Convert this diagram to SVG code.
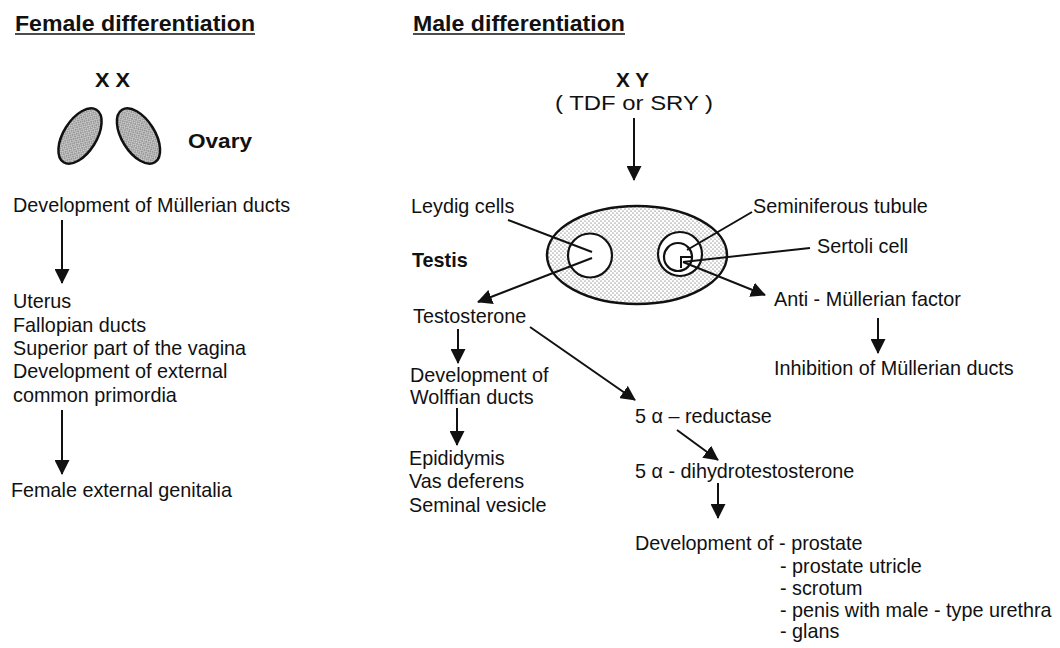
<svg xmlns="http://www.w3.org/2000/svg" width="1060" height="648" viewBox="0 0 1060 648">
<style>
text{font-family:"Liberation Sans",Arial,sans-serif;fill:#111;font-size:19.8px}
.b{font-weight:bold}
.hd{font-weight:bold;font-size:22px}
.ln{stroke:#111;stroke-width:2;fill:none}
.arr{stroke:#111;stroke-width:2;fill:none;marker-end:url(#ah)}
.ul{stroke:#111;stroke-width:1.6}
</style>
<defs>
<marker id="ah" viewBox="0 0 15 15" markerWidth="15" markerHeight="15" markerUnits="userSpaceOnUse" refX="14" refY="7.5" orient="auto">
<path d="M0,0 L15,7.5 L0,15 z" fill="#111"/>
</marker>
<pattern id="stip" width="4" height="4" patternUnits="userSpaceOnUse">
<rect width="4" height="4" fill="#fff"/>
<circle cx="1" cy="1" r="0.6" fill="#444"/>
<circle cx="3" cy="3" r="0.6" fill="#444"/>
</pattern>
<pattern id="dense" width="3" height="3" patternUnits="userSpaceOnUse">
<rect width="3" height="3" fill="#d0d0d0"/>
<circle cx="1" cy="1" r="0.8" fill="#555"/>
<circle cx="2.5" cy="2.5" r="0.5" fill="#777"/>
</pattern>
</defs>
<rect width="1060" height="648" fill="#fff"/>

<g id="female-header">
<text class="hd" x="15" y="31" textLength="240" lengthAdjust="spacingAndGlyphs">Female differentiation</text>
<line class="ul" x1="15" y1="34" x2="255" y2="34"/>
</g>
<g id="xx">
<text class="b" x="95" y="87" font-size="20" textLength="35" lengthAdjust="spacingAndGlyphs">X X</text>
</g>
<g id="ovary">
<ellipse cx="80" cy="136" rx="16.5" ry="31" transform="rotate(32 80 136)" fill="url(#dense)" stroke="#111" stroke-width="2.5"/>
<ellipse cx="138.5" cy="136" rx="16.5" ry="31" transform="rotate(-32 138.5 136)" fill="url(#dense)" stroke="#111" stroke-width="2.5"/>
<text class="b" x="188" y="148" font-size="22" textLength="64" lengthAdjust="spacingAndGlyphs">Ovary</text>
</g>
<g id="mullerian-dev">
<text x="13" y="212">Development of Müllerian ducts</text>
</g>
<g id="female-internal">
<text x="13" y="308">Uterus</text>
<text x="13" y="332">Fallopian ducts</text>
<text x="13" y="355">Superior part of the vagina</text>
<text x="13" y="378">Development of external</text>
<text x="13" y="402">common primordia</text>
</g>
<g id="female-external">
<text x="11" y="497">Female external genitalia</text>
</g>

<g id="male-header">
<text class="hd" x="413" y="31" textLength="212" lengthAdjust="spacingAndGlyphs">Male differentiation</text>
<line class="ul" x1="413" y1="34" x2="625" y2="34"/>
</g>
<g id="xy">
<text class="b" x="616" y="86.5" font-size="20" textLength="33" lengthAdjust="spacingAndGlyphs">X Y</text>
<text x="634" y="110" font-size="23" text-anchor="middle" textLength="158" lengthAdjust="spacingAndGlyphs">( TDF or SRY )</text>
</g>
<g id="testis">
<ellipse cx="637" cy="255" rx="90" ry="49" fill="url(#stip)" stroke="#111" stroke-width="2.5"/>
<circle cx="590" cy="255.5" r="22" fill="#fff" stroke="#111" stroke-width="2.2"/>
<circle cx="680" cy="254" r="22" fill="#fff" stroke="#111" stroke-width="2.2"/>
<circle cx="678" cy="257" r="14" fill="#fff" stroke="#111" stroke-width="2.2"/>
<path d="M681,268 V257 H692" class="ln"/>
<text class="b" x="412" y="267" font-size="22.5">Testis</text>
</g>
<g id="leydig">
<text x="411" y="213">Leydig cells</text>
</g>
<g id="seminiferous">
<text x="753" y="213">Seminiferous tubule</text>
</g>
<g id="sertoli">
<text x="817" y="253">Sertoli cell</text>
</g>
<g id="amf">
<text x="774" y="306">Anti - Müllerian factor</text>
</g>
<g id="inhibition">
<text x="774" y="375">Inhibition of Müllerian ducts</text>
</g>
<g id="testosterone">
<text x="413" y="323">Testosterone</text>
</g>
<g id="wolffian">
<text x="410" y="382">Development of</text>
<text x="410" y="404">Wolffian ducts</text>
</g>
<g id="wolffian-derivatives">
<text x="409" y="465">Epididymis</text>
<text x="409" y="488">Vas deferens</text>
<text x="409" y="512">Seminal vesicle</text>
</g>
<g id="reductase">
<text x="635" y="423">5 α – reductase</text>
</g>
<g id="dht">
<text x="635" y="478">5 α - dihydrotestosterone</text>
</g>
<g id="prostate-dev">
<text x="635" y="550">Development of - prostate</text>
<text x="780" y="573">- prostate utricle</text>
<text x="780" y="595">- scrotum</text>
<text x="780" y="617">- penis with male - type urethra</text>
<text x="780" y="638">- glans</text>
</g>

<g id="connectors">
<line class="arr" x1="62" y1="220" x2="62" y2="283"/>
<line class="arr" x1="62" y1="410" x2="62" y2="474"/>
<line class="arr" x1="634" y1="118" x2="634" y2="180"/>
<line class="ln" x1="508" y1="220" x2="592" y2="252"/>
<line class="arr" x1="592" y1="258" x2="478" y2="302"/>
<line class="ln" x1="752" y1="212" x2="687" y2="250"/>
<line class="ln" x1="810" y1="248" x2="683" y2="262"/>
<line class="arr" x1="683" y1="262" x2="765" y2="295"/>
<line class="arr" x1="878" y1="318" x2="878" y2="353"/>
<line class="arr" x1="458" y1="329" x2="458" y2="363"/>
<line class="arr" x1="457" y1="408" x2="457" y2="445"/>
<line class="arr" x1="530" y1="327" x2="635" y2="400"/>
<line class="arr" x1="677" y1="430" x2="718" y2="460"/>
<line class="arr" x1="718" y1="483" x2="718" y2="518"/>
</g>
</svg>
